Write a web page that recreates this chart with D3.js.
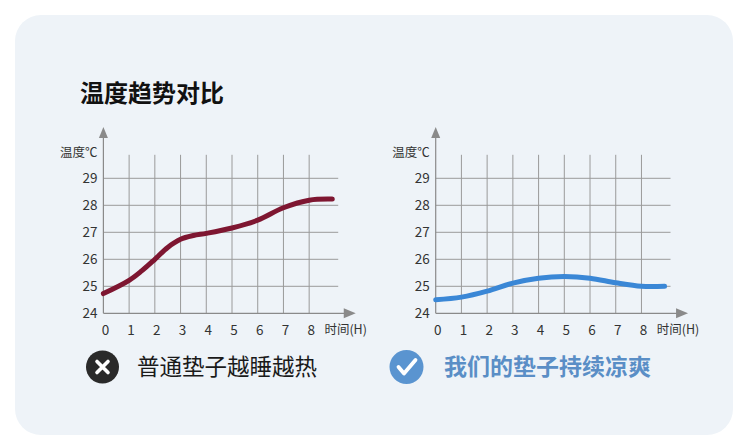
<!DOCTYPE html>
<html>
<head>
<meta charset="utf-8">
<script src="https://cdn.jsdelivr.net/npm/d3@7"></script>
<style>
  body { margin: 0; background: #fff; }
  text { font-family: "Noto Sans CJK SC", "Noto Sans", sans-serif; }
</style>
</head>
<body>
<div id="chart"></div>
<script>
// hours and temperatures
var normalHours = [0, 1, 1.5, 2, 2.5, 3, 3.5, 4, 5, 6, 7, 8, 8.9];
var normalTemps = [24.73, 25.22, 25.58, 26.0, 26.44, 26.74, 26.88, 26.96, 27.16, 27.45, 27.91, 28.19, 28.23];
var ourHours = [0, 1, 2, 3, 4, 5, 6, 7, 8, 8.9];
var ourTemps = [24.5, 24.6, 24.82, 25.12, 25.3, 25.36, 25.3, 25.13, 25.0, 25.0];
var xTicks = [0, 1, 2, 3, 4, 5, 6, 7, 8];
var yTicks = [24, 25, 26, 27, 28, 29];

var width = 750, height = 436;

var svg = d3.select("#chart")
  .append("svg")
  .attr("width", width)
  .attr("height", height);

// card background
svg.append("rect")
  .attr("x", 15).attr("y", 15)
  .attr("width", 718).attr("height", 420)
  .attr("rx", 26)
  .attr("fill", "#eef3f8");

svg.append("text")
  .attr("x", 80).attr("y", 102)
  .attr("font-size", 24)
  .attr("font-weight", "bold")
  .attr("fill", "#111")
  .text("温度趋势对比");

function drawChart(x0, hours, temps, color) {
  var x = d3.scaleLinear().domain([0, 9]).range([x0, x0 + 9 * 25.72]);
  var y = d3.scaleLinear().domain([24, 29]).range([313.3, 178.3]);
  var g = svg.append("g");

  // horizontal gridlines
  g.selectAll(".hgrid")
    .data(yTicks.slice(1))
    .enter().append("line")
    .attr("x1", x(0)).attr("x2", x(9.13))
    .attr("y1", function (d) { return y(d); })
    .attr("y2", function (d) { return y(d); })
    .attr("stroke", "#9a9a9a").attr("stroke-width", 1);

  // vertical gridlines
  g.selectAll(".vgrid")
    .data(xTicks.slice(1))
    .enter().append("line")
    .attr("x1", function (d) { return x(d); })
    .attr("x2", function (d) { return x(d); })
    .attr("y1", y(24)).attr("y2", y(29.87))
    .attr("stroke", "#9a9a9a").attr("stroke-width", 1);

  // axes with arrows
  g.append("line")
    .attr("x1", x(0)).attr("x2", x(0))
    .attr("y1", y(24)).attr("y2", 134)
    .attr("stroke", "#8a8a8a").attr("stroke-width", 1.2);
  g.append("path")
    .attr("d", "M" + (x(0) - 4.5) + ",138 L" + x(0) + ",127 L" + (x(0) + 4.5) + ",138 Z")
    .attr("fill", "#8a8a8a");
  g.append("line")
    .attr("x1", x(0)).attr("x2", x(9.5))
    .attr("y1", y(24)).attr("y2", y(24))
    .attr("stroke", "#8a8a8a").attr("stroke-width", 1.2);
  g.append("path")
    .attr("d", "M" + (x(9.5) - 4) + "," + (y(24) - 5) + " L" + (x(9.5) + 8) + "," + y(24) +
      " L" + (x(9.5) - 4) + "," + (y(24) + 5) + " Z")
    .attr("fill", "#8a8a8a");

  // tick labels
  g.selectAll(".ylab")
    .data(yTicks)
    .enter().append("text")
    .attr("x", x0 - 6)
    .attr("y", function (d) { return y(d); })
    .attr("dy", "0.35em")
    .attr("text-anchor", "end")
    .attr("font-size", 13.5)
    .attr("fill", "#333")
    .text(function (d) { return d; });

  g.selectAll(".xlab")
    .data(xTicks)
    .enter().append("text")
    .attr("x", function (d) { return x(d) + 2; })
    .attr("y", 330)
    .attr("dy", "0.35em")
    .attr("text-anchor", "middle")
    .attr("font-size", 13.5)
    .attr("fill", "#333")
    .text(function (d) { return d; });

  g.append("text")
    .attr("x", x0 - 6).attr("y", 153)
    .attr("dy", "0.35em")
    .attr("text-anchor", "end")
    .attr("font-size", 12.5)
    .attr("fill", "#333")
    .text("温度℃");

  g.append("text")
    .attr("x", x0 + 221).attr("y", 330)
    .attr("dy", "0.35em")
    .attr("font-size", 12.5)
    .attr("fill", "#333")
    .text("时间(H)");

  var line = d3.line()
    .x(function (d, i) { return x(hours[i]); })
    .y(function (d) { return y(d); })
    .curve(d3.curveCatmullRom);

  g.append("path")
    .datum(temps)
    .attr("fill", "none")
    .attr("stroke", color)
    .attr("stroke-width", 5)
    .attr("stroke-linecap", "round")
    .attr("d", line);
}

drawChart(103.4, normalHours, normalTemps, "#7e1631");
drawChart(435.7, ourHours, ourTemps, "#3a87d6");

// legend: cross icon
var cross = svg.append("g").attr("transform", "translate(102.5,367)");
cross.append("circle").attr("r", 16.5).attr("fill", "#2a2a2a");
cross.append("path")
  .attr("d", "M-5.5,-5.5 L5.5,5.5 M5.5,-5.5 L-5.5,5.5")
  .attr("stroke", "#fff").attr("stroke-width", 3.6).attr("stroke-linecap", "round");
svg.append("text")
  .attr("x", 137).attr("y", 367)
  .attr("dy", "0.36em")
  .attr("font-size", 22.5)
  .attr("fill", "#1a1a1a")
  .text("普通垫子越睡越热");

// legend: check icon
var check = svg.append("g").attr("transform", "translate(406.5,367)");
check.append("circle").attr("r", 17).attr("fill", "#5a94d0");
check.append("path")
  .attr("d", "M-8,0 L-2.5,6.5 L9,-7")
  .attr("fill", "none")
  .attr("stroke", "#fff").attr("stroke-width", 3.8)
  .attr("stroke-linecap", "round").attr("stroke-linejoin", "round");
svg.append("text")
  .attr("x", 444).attr("y", 367)
  .attr("dy", "0.36em")
  .attr("font-size", 23)
  .attr("font-weight", "bold")
  .attr("fill", "#5a8ec6")
  .text("我们的垫子持续凉爽");
</script>
</body>
</html>
